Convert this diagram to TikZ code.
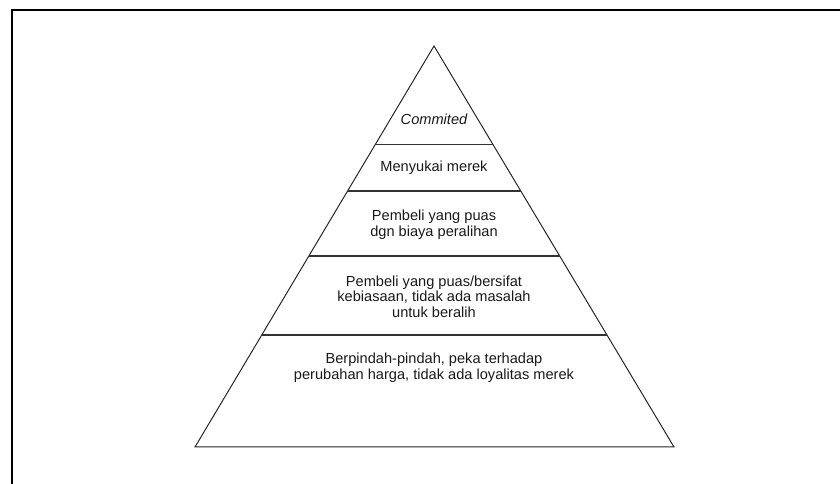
\documentclass[tikz,border=0pt]{standalone}
\usepackage{fontspec}
\setmainfont{Liberation Sans}
\usetikzlibrary{calc}
\begin{document}
\begin{tikzpicture}[x=1pt,y=1pt,
  outline/.style={line width=1pt, draw=black!85},
  divider/.style={line width=1.3pt, draw=black!80},
  frameline/.style={line width=2pt, draw=black},
  tiertext/.style={align=center, font=\fontsize{14.6}{15.8}\selectfont, inner sep=0pt, text=black!90}]
\useasboundingbox (0,0) rectangle (840,484);
% frame (left and top edges only)
\coordinate (fb) at (12,0);
\coordinate (fc) at (12,473.5);
\coordinate (fr) at (840,473.5);
\draw[frameline] (fb) -- (fc) -- (fr);
% pyramid
\coordinate (apex) at (434,438);
\coordinate (bl) at (195,37);
\coordinate (br) at (674,37);
\draw[outline, line join=miter] (apex) -- (bl) -- (br) -- cycle;
% dividers
\foreach \t/\n in {0.2456/a,0.3616/b,0.5237/c,0.7207/d}{
  \coordinate (l\n) at ($(apex)!\t!(bl)$);
  \coordinate (r\n) at ($(apex)!\t!(br)$);
  \draw[divider] (l\n) -- (r\n);
}
% texts
\node[tiertext] (t1) at (434,365) {\itshape Commited};
\node[tiertext] (t2) at (434,316.3) {Menyukai merek};
\node[tiertext] (t3) at (434,259.5) {Pembeli yang puas\\dgn biaya peralihan};
\node[tiertext] (t4) at (434,187.3) {Pembeli yang puas/bersifat\\kebiasaan, tidak ada masalah\\untuk beralih};
\node[tiertext] (t5) at (434,116) {Berpindah-pindah, peka terhadap\\perubahan harga, tidak ada loyalitas merek};
\end{tikzpicture}
\end{document}
